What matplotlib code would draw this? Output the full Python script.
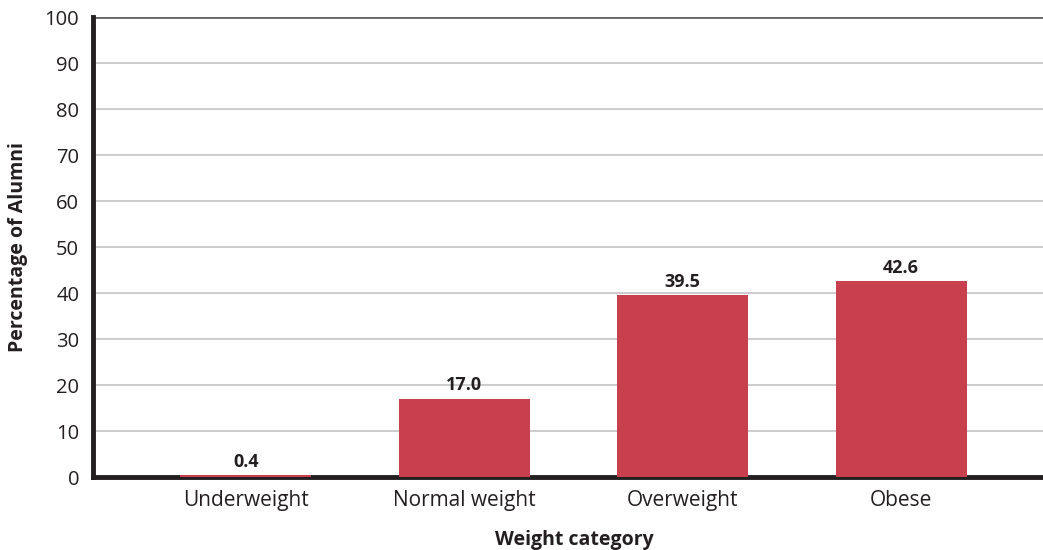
import matplotlib
matplotlib.use("Agg")
import matplotlib.pyplot as plt
import numpy as np

categories = ["Underweight", "Normal weight", "Overweight", "Obese"]
values = [0.4, 17.0, 39.5, 42.6]
yticks = list(range(0, 101, 10))

plt.rcParams["font.family"] = ["Open Sans", "DejaVu Sans"]

fig = plt.figure(figsize=(10.43, 5.5), dpi=100)
ax = fig.add_axes([0.0892, 0.1327, 0.9108, 0.836])

x = np.arange(len(categories))
ax.bar(x, values, width=0.6, color="#C8404D", zorder=3)

for xi, v in zip(x, values):
    ax.text(xi, v + 1.0, f"{v:.1f}", ha="center", va="bottom",
            fontsize=13, fontweight="bold", color="#231F20", zorder=4)

ax.set_xlim(-0.7, 3.65)
ax.set_ylim(0, 100)
ax.set_yticks(yticks)
ax.set_xticks(x)
ax.set_xticklabels(categories)
ax.tick_params(axis="both", length=0, labelsize=15, colors="#231F20")
ax.tick_params(axis="y", labelsize=14.5, pad=10)
ax.tick_params(axis="x", pad=9)

for t in yticks[1:-1]:
    ax.axhline(t, color="#C4C4C4", linewidth=1.2, zorder=1)
ax.axhline(100, color="#666666", linewidth=2, zorder=1)

for side in ["top", "right"]:
    ax.spines[side].set_visible(False)
ax.spines["left"].set_linewidth(3.5)
ax.spines["left"].set_color("#231F20")
ax.spines["bottom"].set_linewidth(3.5)
ax.spines["bottom"].set_color("#231F20")

ax.set_ylabel("Percentage of Alumni", fontsize=14, fontweight="bold",
              color="#231F20", labelpad=12)
ax.set_xlabel("Weight category", fontsize=14, fontweight="bold",
              color="#231F20", va="center")
ax.xaxis.set_label_coords(0.5 - 0.0, -0.137)
# centre of label should sit under the data area centre (~x=574px)
ax.xaxis.label.set_x((574 - 93) / (1043 - 93))

fig.savefig("out.png", dpi=100)
